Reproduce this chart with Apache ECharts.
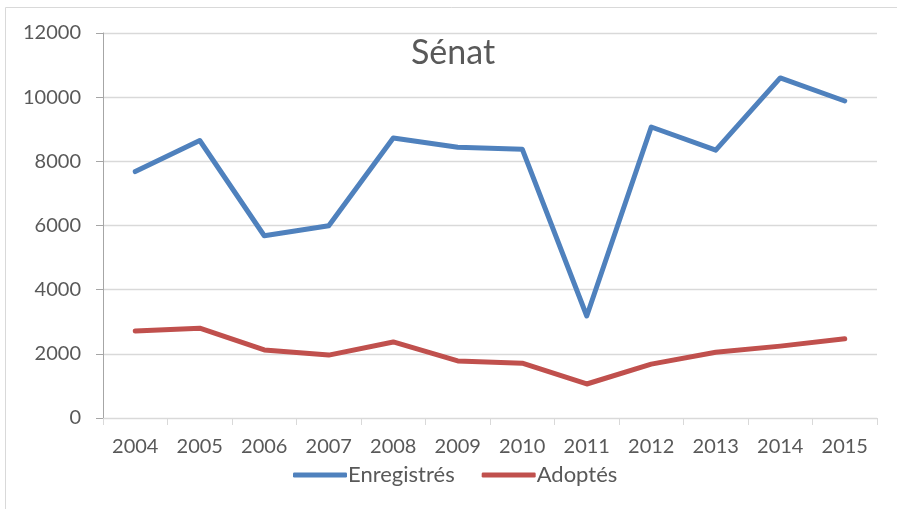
<!DOCTYPE html>
<html>
<head>
<meta charset="utf-8">
<script src="https://cdn.jsdelivr.net/npm/echarts@6/dist/echarts.min.js"></script>
<style>
  html, body { margin: 0; padding: 0; background: #fff; }
  #chart { width: 897px; height: 509px; }
</style>
</head>
<body>
<div id="chart"></div>
<script>
// Sénat chart: registered vs adopted, 2004-2015
const years = ["2004", "2005", "2006", "2007", "2008", "2009", "2010", "2011", "2012", "2013", "2014", "2015"];
const enregistres = [7680, 8650, 5680, 5990, 8730, 8440, 8380, 3180, 9070, 8350, 10600, 9880];
const adoptes = [2710, 2800, 2120, 1960, 2370, 1780, 1710, 1060, 1680, 2050, 2240, 2470];

const font = "Lato, 'Open Sans', sans-serif";
const textColor = "#595959";

const chart = echarts.init(document.getElementById("chart"));

chart.setOption({
  animation: false,
  textStyle: { fontFamily: font },
  title: {
    text: "Sénat",
    left: 448,
    top: 31,
    textAlign: "center",
    textStyle: { fontSize: 34, fontWeight: "normal", color: textColor, fontFamily: font }
  },
  graphic: [{
    type: "polyline",
    shape: { points: [[5.5, 509], [5.5, 7.5], [897, 7.5]] },
    style: { stroke: "#d9d9d9", lineWidth: 1, fill: null }
  }],
  legend: {
    bottom: 18,
    left: 288,
    itemWidth: 54,
    itemHeight: 5,
    itemGap: 27,
    icon: "roundRect",
    textStyle: { fontSize: 22, color: textColor, fontFamily: font, padding: [0, 0, 0, -4] },
    data: ["Enregistrés", "Adoptés"]
  },
  grid: { left: 103, right: 20, top: 33, bottom: 91, containLabel: false },
  xAxis: {
    type: "category",
    data: years,
    boundaryGap: true,
    axisLine: { lineStyle: { color: "#d9d9d9", width: 1 } },
    axisTick: { show: true, length: 7, lineStyle: { color: "#d9d9d9" } },
    axisLabel: { fontSize: 20, color: textColor, margin: 19, fontFamily: font }
  },
  yAxis: {
    type: "value",
    min: 0,
    max: 12000,
    interval: 2000,
    axisLine: { show: true, lineStyle: { color: "#a6a6a6", width: 1 } },
    axisTick: { show: true, length: 7, lineStyle: { color: "#a6a6a6" } },
    axisLabel: { fontSize: 20, color: textColor, margin: 22, fontFamily: font, formatter: (v) => String(v) },
    splitLine: { lineStyle: { color: "#d9d9d9", width: 1.3 } }
  },
  series: [
    {
      name: "Enregistrés",
      type: "line",
      data: enregistres,
      symbol: "none",
      color: "#4f81bd",
      lineStyle: { width: 5, cap: "round", join: "round" }
    },
    {
      name: "Adoptés",
      type: "line",
      data: adoptes,
      symbol: "none",
      color: "#c0504d",
      lineStyle: { width: 5, cap: "round", join: "round" }
    }
  ]
});
</script>
</body>
</html>
